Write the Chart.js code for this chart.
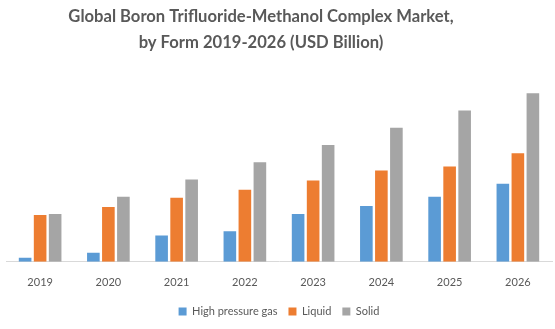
<!DOCTYPE html>
<html>
<head>
<meta charset="utf-8">
<script src="https://cdn.jsdelivr.net/npm/chart.js@4"></script>
<style>
    html, body { margin: 0; padding: 0; background: #fff; }
    #wrap { width: 555px; height: 329px; }
</style>
</head>
<body>
<div id="wrap"><canvas id="chart" width="555" height="329"></canvas></div>
<script>
// ── DATA ──────────────────────────────────────────────────────────────────────
const years = ['2019', '2020', '2021', '2022', '2023', '2024', '2025', '2026'];
const highPressureGas = [0.4, 0.9, 2.6, 3.0, 4.7, 5.5, 6.4, 7.7];
const liquid          = [4.6, 5.4, 6.3, 7.1, 8.0, 9.0, 9.4, 10.7];
const solid           = [4.7, 6.4, 8.1, 9.8, 11.5, 13.2, 14.9, 16.6];
const titleLines = ['Global Boron Trifluoride-Methanol Complex Market,', 'by Form 2019-2026 (USD Billion)'];

const FONT = 'Lato, "Open Sans", sans-serif';
const TEXT = '#595959';

function series(label, data, color) {
    return {
        label,
        data,
        backgroundColor: color,
        borderWidth: 0,
        categoryPercentage: 0.66,
        barPercentage: 0.84,
    };
}

// title sits a bit left of the canvas centre in the original, so draw it ourselves
const titlePlugin = {
    id: 'offsetTitle',
    afterDraw(chart) {
        const ctx = chart.ctx;
        ctx.save();
        ctx.fillStyle = TEXT;
        ctx.font = `bold 16.6px ${FONT}`;
        ctx.textAlign = 'center';
        ctx.textBaseline = 'middle';
        ctx.fillText(titleLines[0], 261, 17);
        ctx.fillText(titleLines[1], 261, 43);
        ctx.restore();
    },
};

new Chart(document.getElementById('chart'), {
    type: 'bar',
    data: {
        labels: years,
        datasets: [
            series('High pressure gas', highPressureGas, '#5b9bd5'),
            series('Liquid', liquid, '#ed7d31'),
            series('Solid', solid, '#a5a5a5'),
        ],
    },
    plugins: [titlePlugin],
    options: {
        responsive: false,
        animation: false,
        layout: { padding: { left: 6, right: 3, top: 70, bottom: 2 } },
        plugins: {
            title: { display: false },
            legend: {
                position: 'bottom',
                labels: {
                    color: TEXT,
                    font: { family: FONT, size: 11 },
                    boxWidth: 8,
                    boxHeight: 8,
                    padding: 11,
                },
            },
            tooltip: { enabled: false },
        },
        scales: {
            x: {
                grid: { display: false },
                border: { display: true, color: '#d9d9d9', width: 1 },
                ticks: { color: TEXT, font: { family: FONT, size: 11 }, padding: 6 },
            },
            y: {
                display: false,
                min: 0,
                max: 18.9,
            },
        },
    },
});
</script>
</body>
</html>
